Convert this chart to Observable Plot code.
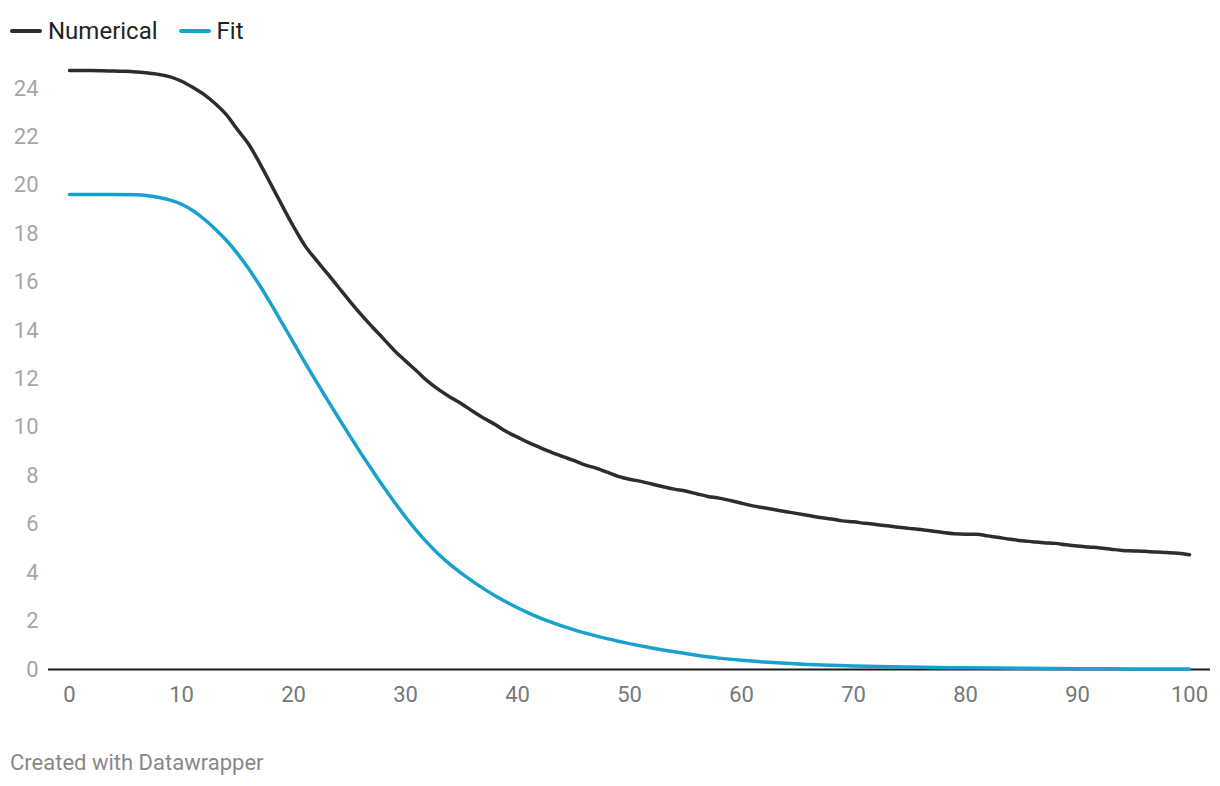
<!DOCTYPE html>
<html>
<head>
<meta charset="utf-8">
<script src="https://cdn.jsdelivr.net/npm/d3@7"></script>
<script src="https://cdn.jsdelivr.net/npm/@observablehq/plot@0.6"></script>
<style>
  html, body { margin: 0; padding: 0; background: #fff; }
  body { width: 1220px; height: 786px; position: relative; overflow: hidden; font-family: Roboto, "Noto Sans", sans-serif; }
  #legend { position: absolute; left: 10px; top: 17px; display: flex; align-items: center; font-size: 24px; color: #222; z-index: 2; }
  .item { display: flex; align-items: center; margin-right: 21px; }
  .sw { width: 32px; height: 4px; border-radius: 2px; margin-right: 6px; }
  #chart { position: absolute; left: 0; top: 0; }
  #caption { position: absolute; left: 10px; top: 750px; font-size: 22px; color: #888; }
</style>
</head>
<body>
<div id="legend"></div>
<div id="chart"></div>
<div id="caption">Created with Datawrapper</div>
<script>
const seriesNames = ["Numerical", "Fit"];
const seriesColors = ["#2d2d2d", "#18a1cd"];

const xNumerical = d3.range(0, 101);
const yNumerical = [
  24.74, 24.74, 24.74, 24.73, 24.72, 24.71, 24.68, 24.64, 24.58, 24.48,
  24.30, 24.05, 23.76, 23.38, 22.92, 22.30, 21.70, 20.90, 20.03, 19.15,
  18.30, 17.52, 16.93, 16.37, 15.80, 15.23, 14.68, 14.17, 13.68, 13.18,
  12.75, 12.33, 11.90, 11.55, 11.25, 10.98, 10.67, 10.38, 10.12, 9.83,
  9.60, 9.37, 9.17, 8.98, 8.80, 8.64, 8.45, 8.32, 8.15, 7.98,
  7.86, 7.77, 7.66, 7.55, 7.45, 7.37, 7.26, 7.15, 7.08, 6.98,
  6.87, 6.76, 6.68, 6.60, 6.52, 6.44, 6.36, 6.28, 6.22, 6.14,
  6.10, 6.04, 5.99, 5.94, 5.88, 5.83, 5.78, 5.72, 5.66, 5.61,
  5.59, 5.59, 5.52, 5.45, 5.38, 5.32, 5.28, 5.24, 5.21, 5.15,
  5.10, 5.06, 5.02, 4.97, 4.92, 4.90, 4.88, 4.85, 4.83, 4.80,
  4.74
];

const xFit = [0, 2, 4, 6, 7, 8, 9, 10, 11, 12, 13, 14, 15, 16, 17, 18, 19, 20,
  21, 22, 23, 24, 25, 26, 27, 28, 29, 30, 31, 32, 33, 34, 35, 36, 37, 38, 39, 40,
  41, 42, 43, 44, 45, 46, 47, 48, 49, 50, 52, 54, 56, 58, 60, 62, 64, 66, 68, 70,
  75, 80, 85, 90, 95, 100];
const yFit = [19.62, 19.62, 19.62, 19.61, 19.57, 19.50, 19.39, 19.22, 18.96, 18.61,
  18.20, 17.73, 17.18, 16.55, 15.85, 15.09, 14.30, 13.50,
  12.70, 11.92, 11.16, 10.41, 9.67, 8.95, 8.25, 7.57, 6.92, 6.30, 5.73, 5.21,
  4.74, 4.33, 3.97, 3.64, 3.33, 3.05, 2.79, 2.55,
  2.33, 2.13, 1.955, 1.795, 1.65, 1.515, 1.39, 1.275, 1.17, 1.07, 0.89, 0.73,
  0.59, 0.47, 0.38, 0.31, 0.255, 0.21, 0.175, 0.148,
  0.10, 0.07, 0.05, 0.035, 0.025, 0.02];

const yTicks = [0, 2, 4, 6, 8, 10, 12, 14, 16, 18, 20, 22, 24];
const xTicks = [0, 10, 20, 30, 40, 50, 60, 70, 80, 90, 100];

const numerical = xNumerical.map((x, i) => ({x, y: yNumerical[i]}));
const fit = xFit.map((x, i) => ({x, y: yFit[i]}));

// legend
const legend = document.getElementById("legend");
seriesNames.forEach((n, i) => {
  const it = document.createElement("div");
  it.className = "item";
  it.innerHTML = `<span class="sw" style="background:${seriesColors[i]}"></span><span>${n}</span>`;
  legend.appendChild(it);
});

const chart = Plot.plot({
  width: 1220,
  height: 730,
  marginLeft: 69,
  marginRight: 31,
  marginTop: 63.8,
  marginBottom: 61,
  style: {fontFamily: "Roboto, sans-serif", fontSize: "22px", background: "transparent"},
  x: {domain: [0, 100], ticks: xTicks, label: null},
  y: {domain: [0, 25], ticks: yTicks, label: null},
  marks: [
    Plot.axisY({ticks: yTicks, tickSize: 0, tickPadding: 31, fill: "#a6a6a6", fontSize: 22, label: null}),
    Plot.axisX({ticks: xTicks, tickSize: 0, tickPadding: 17, fill: "#777", fontSize: 22, label: null}),
    Plot.ruleY([0], {stroke: "#1a1a1a", strokeWidth: 2, insetLeft: -21, insetRight: -21}),
    Plot.line(numerical, {x: "x", y: "y", stroke: seriesColors[0], strokeWidth: 3.5, curve: "monotone-x"}),
    Plot.line(fit, {x: "x", y: "y", stroke: seriesColors[1], strokeWidth: 3.5, curve: "monotone-x"})
  ]
});
document.getElementById("chart").appendChild(chart);
</script>
</body>
</html>
